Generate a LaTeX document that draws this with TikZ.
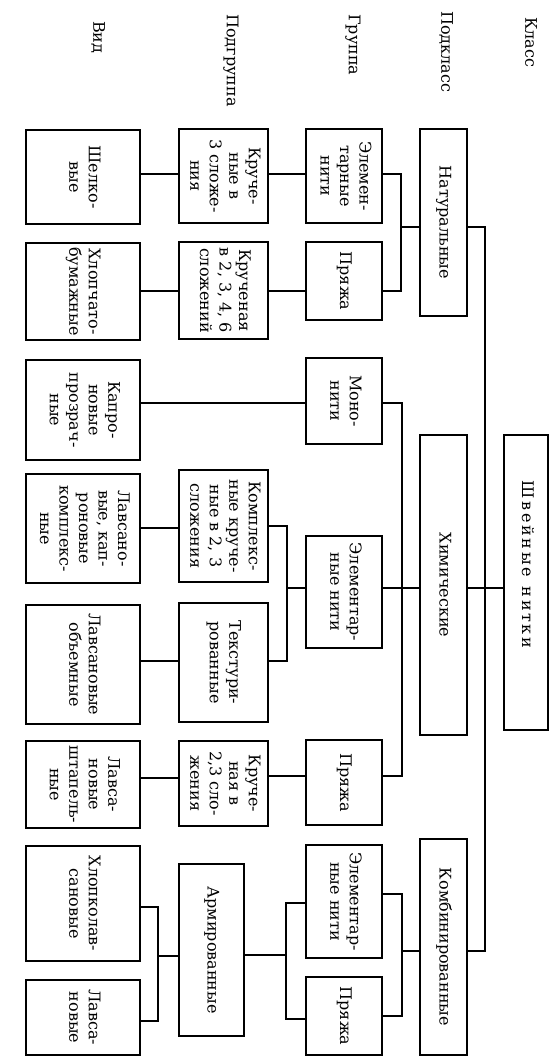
\documentclass[tikz,border=0pt]{standalone}
\usepackage{fontspec}
\setmainfont{DejaVu Serif}
\usepackage{graphicx}
\newcommand{\rt}[1]{\rotatebox{-90}{\begin{tabular}{@{}c@{}}#1\end{tabular}}}
\newcommand{\lk}{\kern2.6pt}
\begin{document}
\begin{tikzpicture}[x=1pt,y=-1pt,
  font=\fontsize{16}{19.5}\selectfont,
  bx/.style={draw, line width=1.3pt, inner sep=0pt},
  ln/.style={line width=1.3pt},
  hd/.style={rotate=-90, anchor=west, inner sep=0pt}]
\useasboundingbox (0,0) rectangle (549,1059);

% headers
\node[hd] (h1) at (531,17) {Класс};
\node[hd] (h2) at (446,11) {Подкласс};
\node[hd] (h3) at (353,14) {Группа};
\node[hd] (h4) at (231,14) {Подгруппа};
\node[hd] (h5) at (98,21) {Вид};

% root
\node[bx, minimum width=44pt, minimum height=295pt] (R) at (526,582.5)
  {\rt{Ш\lk в\lk е\lk й\lk н\lk ы\lk е\kern10pt н\lk и\lk т\lk к\lk и\hspace*{36pt}}};

% subclasses
\node[bx, minimum width=47pt, minimum height=187pt] (C1) at (443.5,222.5) {\rt{Натуральные}};
\node[bx, minimum width=47pt, minimum height=300pt] (C2) at (443.5,585) {\rt{Химические}};
\node[bx, minimum width=47pt, minimum height=216pt] (C3) at (443.5,947) {\rt{Комбинированные}};

% groups
\node[bx, minimum width=76pt, minimum height=94pt] (G1) at (344,176) {\rt{Элемен-\\тарные\\нити}};
\node[bx, minimum width=76pt, minimum height=78pt] (G2) at (344,281) {\rt{Пряжа}};
\node[bx, minimum width=76pt, minimum height=86pt] (G3) at (344,401) {\rt{Моно-\\нити}};
\node[bx, minimum width=76pt, minimum height=112pt] (G4) at (344,592) {\rt{Элементар-\\ные нити}};
\node[bx, minimum width=76pt, minimum height=85pt] (G5) at (344,782.5) {\rt{Пряжа}};
\node[bx, minimum width=76pt, minimum height=113pt] (G6) at (344,901.5) {\rt{Элементар-\\ные нити}};
\node[bx, minimum width=76pt, minimum height=78pt] (G7) at (344,1016) {\rt{Пряжа}};

% subgroups
\node[bx, minimum width=89pt, minimum height=94pt] (S1) at (223.5,176) {\rt{Круче-\\ные в\\3 сложе-\\ния}};
\node[bx, minimum width=89pt, minimum height=97pt] (S2) at (223.5,290.5) {\rt{Крученая\\в 2, 3, 4, 6\\сложений}};
\node[bx, minimum width=89pt, minimum height=112pt] (S3) at (223.5,526) {\rt{Комплекс-\\ные круче-\\ные в 2, 3\\сложения}};
\node[bx, minimum width=89pt, minimum height=119pt] (S4) at (223.5,662.5) {\rt{Текстури-\\рованные}};
\node[bx, minimum width=89pt, minimum height=85pt] (S5) at (223.5,783.5) {\rt{Круче-\\ная в\\2,3 сло-\\жения}};
\node[bx, minimum width=65pt, minimum height=172pt] (S6) at (211.5,950) {\rt{Армированные}};

% kinds
\node[bx, minimum width=114pt, minimum height=94pt] (V1) at (83,177) {\rt{Шелко-\\вые}};
\node[bx, minimum width=114pt, minimum height=97pt] (V2) at (83,291.5) {\rt{Хлопчато-\\бумажные}};
\node[bx, minimum width=114pt, minimum height=100pt] (V3) at (83,410) {\rt{Капро-\\новые\\прозрач-\\ные}};
\node[bx, minimum width=114pt, minimum height=109pt] (V4) at (83,528.5) {\rt{Лавсано-\\вые, кап-\\роновые\\комплекс-\\ные}};
\node[bx, minimum width=114pt, minimum height=119pt] (V5) at (83,664.5) {\rt{Лавсановые\\объемные}};
\node[bx, minimum width=114pt, minimum height=87pt] (V6) at (83,784.5) {\rt{Лавса-\\новые\\штапель-\\ные}};
\node[bx, minimum width=114pt, minimum height=115pt] (V7) at (83,903.5) {\rt{Хлопколав-\\сановые}};
\node[bx, minimum width=114pt, minimum height=75pt] (V8) at (83,1017.5) {\rt{Лавса-\\новые}};

% bus coordinates
\coordinate (T) at (485,0);
\coordinate (BN) at (401,0);
\coordinate (BC) at (402,0);
\coordinate (BK) at (402,0);
\coordinate (BE) at (287,0);
\coordinate (BA) at (286,0);
\coordinate (BV) at (158,0);

% trunk
\draw[ln] (C1.east |- 0,227) -- (T |- 0,227) -- (T |- 0,951) -- (C3.east |- 0,951);
\draw[ln] (C2.east |- 0,588) -- (R.west |- 0,588);

% natural
\draw[ln] (C1.west |- 0,227) -- (BN |- 0,227);
\draw[ln] (G1.east |- 0,174) -- (BN |- 0,174) -- (BN |- 0,291) -- (G2.east |- 0,291);
\draw[ln] (G1.west |- 0,174) -- (S1.east |- 0,174);
\draw[ln] (S1.west |- 0,174) -- (V1.east |- 0,174);
\draw[ln] (G2.west |- 0,291) -- (S2.east |- 0,291);
\draw[ln] (S2.west |- 0,291) -- (V2.east |- 0,291);

% chemical
\draw[ln] (C2.west |- 0,588) -- (G4.east |- 0,588);
\draw[ln] (G3.east |- 0,403) -- (BC |- 0,403) -- (BC |- 0,776) -- (G5.east |- 0,776);
\draw[ln] (G3.west |- 0,403) -- (V3.east |- 0,403);
\draw[ln] (G4.west |- 0,588) -- (BE |- 0,588);
\draw[ln] (S3.east |- 0,526) -- (BE |- 0,526) -- (BE |- 0,661) -- (S4.east |- 0,661);
\draw[ln] (S3.west |- 0,528) -- (V4.east |- 0,528);
\draw[ln] (S4.west |- 0,661) -- (V5.east |- 0,661);
\draw[ln] (G5.west |- 0,776) -- (S5.east |- 0,776);
\draw[ln] (S5.west |- 0,778) -- (V6.east |- 0,778);

% combined
\draw[ln] (C3.west |- 0,951) -- (BK |- 0,951);
\draw[ln] (G6.east |- 0,894) -- (BK |- 0,894) -- (BK |- 0,1016) -- (G7.east |- 0,1016);
\draw[ln] (G6.west |- 0,903) -- (BA |- 0,903) -- (BA |- 0,1019) -- (G7.west |- 0,1019);
\draw[ln] (S6.east |- 0,955) -- (BA |- 0,955);
\draw[ln] (S6.west |- 0,956) -- (BV |- 0,956);
\draw[ln] (V7.east |- 0,907) -- (BV |- 0,907) -- (BV |- 0,1021) -- (V8.east |- 0,1021);
\end{tikzpicture}
\end{document}
